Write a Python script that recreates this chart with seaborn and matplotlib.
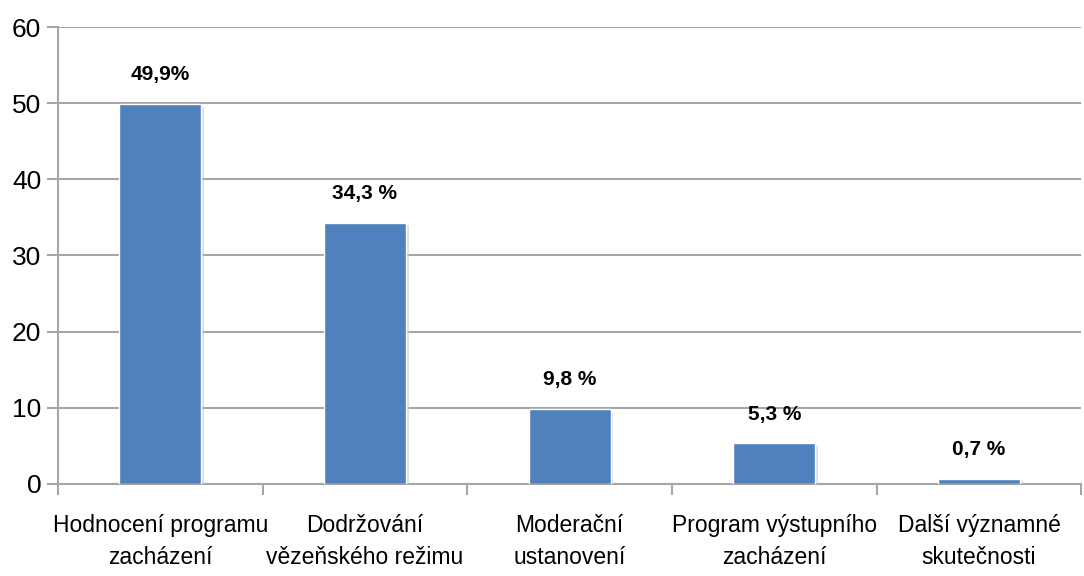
import matplotlib
matplotlib.use("Agg")
import matplotlib.pyplot as plt
import matplotlib.patheffects as pe
import numpy as np
import pandas as pd
import seaborn as sns

categories = ['Hodnocení programu\nzacházení', 'Dodržování\nvězeňského režimu',
              'Moderační\nustanovení', 'Program výstupního\nzacházení',
              'Další významné\nskutečnosti']
values = [49.9, 34.3, 9.8, 5.3, 0.7]
value_labels = ['49,9%', '34,3 %', '9,8 %', '5,3 %', '0,7 %']

sns.set_style('white')
plt.rcParams['font.family'] = ['Liberation Sans', 'DejaVu Sans']

df = pd.DataFrame({'kat': categories, 'hodnota': values})

fig = plt.figure(figsize=(10.84, 5.76), dpi=100)
ax = fig.add_axes([0.0535, 0.16, 0.944, 0.793])

grid_col = '#a6a6a6'
ax.yaxis.grid(True, color=grid_col, linewidth=1.5, zorder=0)
ax.set_axisbelow(True)

sns.barplot(data=df, x='kat', y='hodnota', color='#4f81bd', width=0.4,
            saturation=1, ax=ax, zorder=3)
for p in ax.patches:
    p.set_path_effects([pe.SimplePatchShadow(offset=(2, -2), shadow_rgbFace='#c8c8c8', alpha=0.6),
                        pe.Normal()])

for i, (v, lab) in enumerate(zip(values, value_labels)):
    ax.text(i, v + 2.6, lab, ha='center', va='bottom', fontsize=15,
            fontweight='bold', color='black')

ax.set_ylim(0, 60)
ax.set_xlim(-0.5, 4.5)
ax.set_yticks(np.arange(0, 61, 10))
ax.tick_params(axis='y', labelsize=19, length=8, width=1.5, color=grid_col, left=True,
               pad=4, labelcolor='black')
ax.tick_params(axis='x', labelsize=16.5, length=0, pad=22, labelcolor='black')
for t in ax.get_xticklabels():
    t.set_linespacing(1.5)
ax.set_xticks(np.arange(-0.5, 5, 1), minor=True)
ax.tick_params(axis='x', which='minor', length=8, width=1.5, color=grid_col, bottom=True)
ax.set_xlabel('')
ax.set_ylabel('')

for s in ['top', 'right']:
    ax.spines[s].set_visible(False)
for s in ['left', 'bottom']:
    ax.spines[s].set_color(grid_col)
    ax.spines[s].set_linewidth(1.5)

fig.savefig('out.png', dpi=100)
